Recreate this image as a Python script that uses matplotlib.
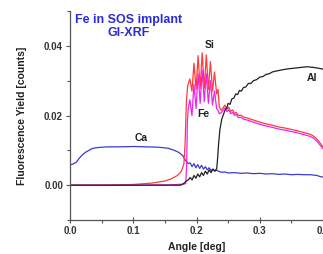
import matplotlib
matplotlib.use("Agg")
import matplotlib.pyplot as plt
from matplotlib.ticker import MultipleLocator

plt.rcParams['font.family'] = ['Liberation Sans', 'DejaVu Sans']

# ---- data ----
ca_x = [0.000, 0.005, 0.010, 0.015, 0.020, 0.025, 0.030, 0.035, 0.040, 0.050, 0.060, 0.080,
        0.100, 0.120, 0.140, 0.155, 0.165, 0.172, 0.178, 0.183, 0.187, 0.190, 0.193, 0.196,
        0.199, 0.202, 0.205, 0.208, 0.211, 0.214, 0.217, 0.220, 0.223, 0.226, 0.229, 0.232,
        0.236, 0.240, 0.245, 0.250, 0.260, 0.270, 0.280, 0.290, 0.300, 0.310, 0.320, 0.330,
        0.340, 0.350, 0.360, 0.370, 0.380, 0.390, 0.395, 0.400]
ca_y = [0.0058, 0.0061, 0.0066, 0.0078, 0.0088, 0.0095, 0.0100, 0.0105, 0.0107, 0.0109, 0.0110, 0.0110,
        0.0111, 0.0110, 0.0109, 0.0106, 0.0100, 0.0094, 0.0085, 0.0070, 0.0062, 0.0064, 0.0053, 0.0062,
        0.0050, 0.0059, 0.0048, 0.0057, 0.0046, 0.0053, 0.0044, 0.0050, 0.0042, 0.0046, 0.0041, 0.0043,
        0.0039, 0.0037, 0.0038, 0.0035, 0.0036, 0.0034, 0.0035, 0.0033, 0.0034, 0.0032, 0.0033, 0.0031,
        0.0032, 0.0030, 0.0031, 0.0030, 0.0030, 0.0028, 0.0025, 0.0023]

si_x = [0.000, 0.060, 0.100, 0.130, 0.150, 0.160, 0.170, 0.176, 0.180, 0.182, 0.184, 0.186,
        0.1895, 0.1928, 0.1960, 0.1993, 0.2025, 0.2058, 0.2090, 0.2123, 0.2155, 0.2188, 0.2220,
        0.2253, 0.2285, 0.2318, 0.2340, 0.2360, 0.2390, 0.2420, 0.2450, 0.2480, 0.2510, 0.2540,
        0.2570, 0.2600, 0.2630, 0.2660, 0.2700, 0.2750, 0.2800, 0.2900, 0.3000, 0.3100, 0.3200,
        0.3300, 0.3400, 0.3500, 0.3600, 0.3700, 0.3800, 0.3850, 0.3900, 0.3950, 0.4000]
si_y = [0.0000, 0.0000, 0.0002, 0.0006, 0.0012, 0.0018, 0.0028, 0.0040, 0.0060, 0.0120, 0.0240, 0.0285,
        0.0305, 0.0270, 0.0350, 0.0275, 0.0372, 0.0278, 0.0380, 0.0278, 0.0374, 0.0275, 0.0355,
        0.0270, 0.0325, 0.0262, 0.0275, 0.0225, 0.0215, 0.0222, 0.0230, 0.0218, 0.0224, 0.0212,
        0.0216, 0.0206, 0.0209, 0.0200, 0.0201, 0.0195, 0.0193, 0.0187, 0.0181, 0.0176, 0.0172,
        0.0167, 0.0164, 0.0160, 0.0156, 0.0151, 0.0146, 0.0141, 0.0133, 0.0122, 0.0110]

fe_x = [0.000, 0.100, 0.160, 0.180, 0.183, 0.1845, 0.1855, 0.187,
        0.1895, 0.1928, 0.1960, 0.1993, 0.2025, 0.2058, 0.2090, 0.2123, 0.2155, 0.2188, 0.2220,
        0.2253, 0.2285, 0.2318, 0.2340, 0.2360, 0.2390, 0.2420, 0.2450, 0.2480, 0.2510, 0.2540,
        0.2570, 0.2600, 0.2630, 0.2660, 0.2700, 0.2750, 0.2800, 0.2900, 0.3000, 0.3100, 0.3200,
        0.3300, 0.3400, 0.3500, 0.3600, 0.3700, 0.3800, 0.3850, 0.3900, 0.3950, 0.4000]
fe_y = [0.0000, 0.0000, 0.0001, 0.0003, 0.0005, 0.0060, 0.0180, 0.0220,
        0.0245, 0.0200, 0.0290, 0.0220, 0.0320, 0.0235, 0.0330, 0.0240, 0.0320, 0.0235, 0.0300,
        0.0230, 0.0270, 0.0220, 0.0215, 0.0205, 0.0208, 0.0215, 0.0222, 0.0211, 0.0217, 0.0205,
        0.0209, 0.0200, 0.0203, 0.0194, 0.0195, 0.0189, 0.0187, 0.0181, 0.0175, 0.0170, 0.0166,
        0.0161, 0.0158, 0.0154, 0.0150, 0.0145, 0.0140, 0.0135, 0.0127, 0.0116, 0.0105]

al_x = [0.000, 0.100, 0.175, 0.180, 0.184, 0.187, 0.190, 0.193, 0.196, 0.199, 0.202, 0.205,
        0.208, 0.211, 0.214, 0.217, 0.220, 0.223, 0.226, 0.229, 0.232, 0.2335, 0.235, 0.237,
        0.240, 0.242, 0.245, 0.248, 0.250, 0.253, 0.256, 0.259, 0.262, 0.265, 0.268, 0.271,
        0.274, 0.278, 0.282, 0.286, 0.290, 0.295, 0.300, 0.305, 0.310, 0.315, 0.320, 0.327,
        0.335, 0.345, 0.355, 0.365, 0.375, 0.385, 0.395, 0.400]
al_y = [0.0000, 0.0000, 0.0000, 0.0005, 0.0012, 0.0015, 0.0022, 0.0015, 0.0028, 0.0020, 0.0032, 0.0024,
        0.0036, 0.0028, 0.0040, 0.0032, 0.0044, 0.0036, 0.0046, 0.0040, 0.0048, 0.0080, 0.0120, 0.0160,
        0.0190, 0.0200, 0.0215, 0.0222, 0.0235, 0.0232, 0.0248, 0.0250, 0.0262, 0.0260, 0.0272, 0.0270,
        0.0280, 0.0282, 0.0292, 0.0292, 0.0300, 0.0303, 0.0310, 0.0312, 0.0318, 0.0320, 0.0325, 0.0328,
        0.0331, 0.0334, 0.0336, 0.0338, 0.0340, 0.0338, 0.0335, 0.0333]

x_ticks = [0.0, 0.1, 0.2, 0.3, 0.4]
y_ticks = [0.00, 0.02, 0.04]

labels = ["Ca", "Si", "Fe", "Al"]
label_pos_x = [0.112, 0.221, 0.210, 0.383]
label_pos_y = [0.0136, 0.0403, 0.0203, 0.0307]

# ---- figure ----
fig = plt.figure(figsize=(3.23, 2.54), dpi=100)
ax = fig.add_axes([70/323, 34/254, 253/323, 209/254])

ax.plot(ca_x, ca_y, color='#3a3ad0', lw=0.9)
ax.plot(si_x, si_y, color='#ff3a3a', lw=0.9)
ax.plot(fe_x, fe_y, color='#ee22ee', lw=0.9)
ax.plot(al_x, al_y, color='#202020', lw=0.9)

for t, lx, ly in zip(labels, label_pos_x, label_pos_y):
    ax.text(lx, ly, t, fontsize=7.5, fontweight='bold', color='#222222',
            ha='center', va='center')

ax.text(0.092, 0.0455, "Fe in SOS implant\nGI-XRF", fontsize=9, fontweight='bold',
        color='#2b2bd8', ha='center', va='center', linespacing=1.1,
        transform=ax.transData)

ax.set_xlim(0.0, 0.4)
ax.set_ylim(-0.01, 0.05)
ax.set_xticks(x_ticks)
ax.set_xticklabels([f"{v:.1f}" for v in x_ticks])
ax.set_yticks(y_ticks)
ax.set_yticklabels([f"{v:.2f}" for v in y_ticks])
ax.xaxis.set_minor_locator(MultipleLocator(0.05))
ax.yaxis.set_minor_locator(MultipleLocator(0.01))

for s in ['top', 'right']:
    ax.spines[s].set_visible(False)
for s in ['left', 'bottom']:
    ax.spines[s].set_color('#555555')
    ax.spines[s].set_linewidth(0.9)

ax.tick_params(axis='both', which='major', length=3, width=0.8, color='#555555',
               labelsize=7, labelcolor='#333333', pad=2)
ax.tick_params(axis='x', which='major', direction='inout', length=4)
ax.tick_params(axis='both', which='minor', length=2, width=0.8, color='#555555')
for lab in ax.get_xticklabels() + ax.get_yticklabels():
    lab.set_fontweight('bold')

ax.set_xlabel("Angle [deg]", fontsize=7.5, fontweight='bold', color='#222222', labelpad=4.5)
ax.set_ylabel("Fluorescence Yield [counts]", fontsize=7.5, fontweight='bold', color='#222222',
              labelpad=12)

fig.savefig("out.png", dpi=100)
